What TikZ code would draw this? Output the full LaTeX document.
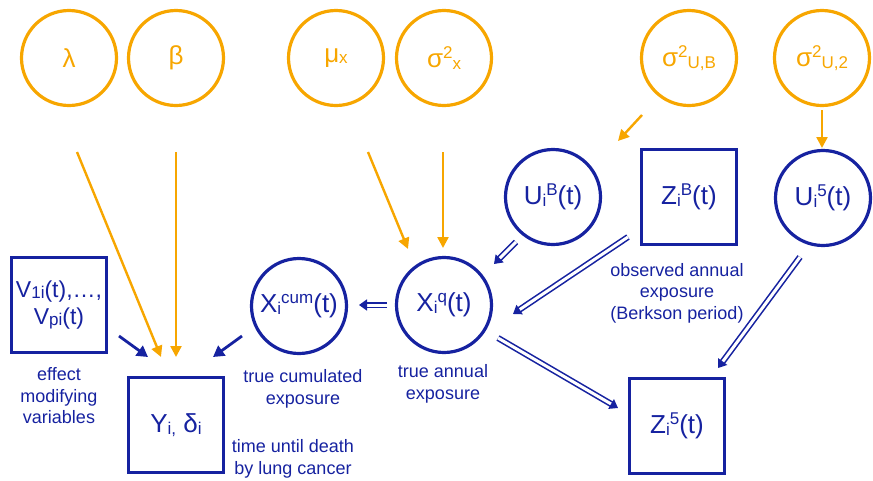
\documentclass[tikz,border=0pt]{standalone}
\usepackage{fontspec}
\setmainfont{Liberation Sans}
\usetikzlibrary{arrows.meta}
\definecolor{org}{RGB}{247,166,0}
\definecolor{blu}{RGB}{22,34,160}
\newcommand\myup[1]{\raisebox{0.34em}{\fontsize{17}{17}\selectfont #1}}
\newcommand\mydn[1]{\raisebox{-0.06em}{\fontsize{17}{17}\selectfont #1}}
\tikzset{
  ocirc/.style={circle, draw=org, line width=3.2pt, minimum size=95pt, inner sep=0pt, text=org, font=\fontsize{26}{30}\selectfont},
  bcirc/.style={circle, draw=blu, line width=3.2pt, minimum size=95pt, inner sep=0pt, text=blu, font=\fontsize{26}{30}\selectfont},
  bbox/.style={rectangle, draw=blu, line width=3.2pt, minimum size=95pt, inner sep=0pt, text=blu, align=center, font=\fontsize{26}{30}\selectfont},
  lbl/.style={text=blu, align=center, font=\fontsize{18}{21.5}\selectfont, inner sep=0pt},
  oarr/.style={draw=org, line width=2.4pt, -{Triangle[length=11pt,width=11pt]}},
  barr/.style={draw=blu, line width=2.8pt, -{Triangle[length=11pt,width=12pt]}},
  darr/.style={draw=blu, line width=1.6pt, double=white, double distance=3pt, -{Triangle[length=8pt,width=11pt]}}
}
\begin{document}
\begin{tikzpicture}[x=1pt,y=-1pt]
\useasboundingbox (0,0) rectangle (873,480);
% orange parameter nodes
\node[ocirc] (lam) at (69,58) {λ};
\node[ocirc] (bet) at (176,58) {β};
\node[ocirc] (mux) at (336,58) {μ\mydn{x}};
\node[ocirc] (sx) at (444,58) {σ\myup{2}\mydn{x}};
\node[ocirc] (sub) at (689,58) {σ\myup{2}\mydn{U,B}};
\node[ocirc] (su2) at (822,58) {σ\myup{2}\mydn{U,2}};
% blue nodes
\node[bcirc] (ub) at (553,197) {U\mydn{i}\myup{B}(t)};
\node[bbox] (zb) at (689,197) {Z\mydn{i}\myup{B}(t)};
\node[bcirc] (u5) at (823,198) {U\mydn{i}\myup{5}(t)};
\node[bcirc] (xq) at (444,305) {X\mydn{i}\myup{q}(t)};
\node[bcirc] (xc) at (299,306) {X\mydn{i}\myup{cum}(t)};
\node[bbox, font=\fontsize{23}{27}\selectfont] (v) at (59,305) {V\mydn{1i}(t),…,\\V\mydn{pi}(t)};
\node[bbox] (y) at (176,425) {Y\mydn{i,} δ\mydn{i}};
\node[bbox] (z5) at (677,426) {Z\mydn{i}\myup{5}(t)};
% labels
\node[lbl] (lv) at (59,396) {effect\\modifying\\variables};
\node[lbl] (lxc) at (303,389) {true cumulated\\exposure};
\node[lbl] (ly) at (293,459) {time until death\\by lung cancer};
\node[lbl] (lxq) at (443,384) {true annual\\exposure};
\node[lbl] (lzb) at (677,293) {observed annual\\exposure\\(Berkson period)};
% connector end points
\coordinate (lamA) at (77,152);  \coordinate (lamB) at (161,357);
\coordinate (betA) at (176,152); \coordinate (betB) at (176,357);
\coordinate (muA) at (368,152);  \coordinate (muB) at (408,249);
\coordinate (sxA) at (443,152);  \coordinate (sxB) at (443,248);
\coordinate (subA) at (642,115); \coordinate (subB) at (618,141);
\coordinate (su2A) at (822,110); \coordinate (su2B) at (822,148);
\coordinate (vA) at (119,336);   \coordinate (vB) at (148,357);
\coordinate (xcA) at (242,336);  \coordinate (xcB) at (213,357);
\coordinate (xqA) at (387,305);  \coordinate (xqB) at (359,305);
\coordinate (ubA) at (516,242);  \coordinate (ubB) at (494,264);
\coordinate (zbA) at (628,237);  \coordinate (zbB) at (513,314);
\coordinate (xzA) at (498,338);  \coordinate (xzB) at (618,408);
\coordinate (u5A) at (800,257);  \coordinate (u5B) at (718,368);
% orange arrows
\draw[oarr] (lamA) -- (lamB);
\draw[oarr] (betA) -- (betB);
\draw[oarr] (muA) -- (muB);
\draw[oarr] (sxA) -- (sxB);
\draw[oarr] (subA) -- (subB);
\draw[oarr] (su2A) -- (su2B);
% blue arrows
\draw[barr] (vA) -- (vB);
\draw[barr] (xcA) -- (xcB);
\draw[darr] (xqA) -- (xqB);
\draw[darr] (ubA) -- (ubB);
\draw[darr] (zbA) -- (zbB);
\draw[darr] (xzA) -- (xzB);
\draw[darr] (u5A) -- (u5B);
\end{tikzpicture}
\end{document}
